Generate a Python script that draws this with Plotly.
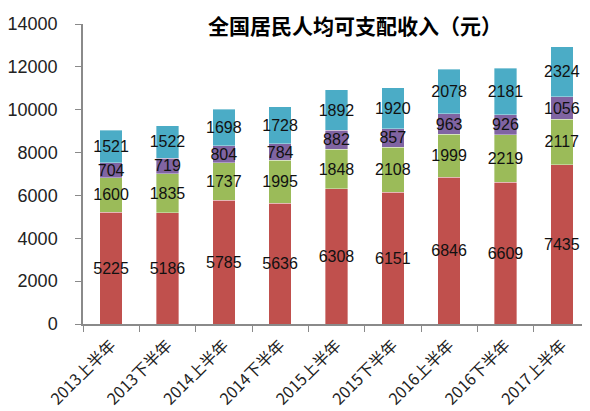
import plotly.graph_objects as go

categories = ["2013上半年", "2013下半年", "2014上半年", "2014下半年", "2015上半年",
              "2015下半年", "2016上半年", "2016下半年", "2017上半年"]
wage = [5225, 5186, 5785, 5636, 6308, 6151, 6846, 6609, 7435]
business = [1600, 1835, 1737, 1995, 1848, 2108, 1999, 2219, 2117]
property_inc = [704, 719, 804, 784, 882, 857, 963, 926, 1056]
transfer = [1521, 1522, 1698, 1728, 1892, 1920, 2078, 2181, 2324]
series_names = ["工资性收入", "经营净收入", "财产净收入", "转移净收入"]
colors = ["#C0504D", "#9BBB59", "#8064A2", "#4BACC6"]
title_text = "全国居民人均可支配收入（元）"

num_font = "Liberation Sans, Arial, sans-serif"
cjk_font = "Noto Sans CJK SC, Liberation Sans, sans-serif"

fig = go.Figure()
for name, vals, col in zip(series_names, [wage, business, property_inc, transfer], colors):
    fig.add_trace(go.Bar(
        x=categories, y=vals, name=name,
        marker=dict(color=col, line=dict(color="rgba(255,255,255,0.6)", width=0.6)),
        text=[str(v) for v in vals],
        textposition="inside", insidetextanchor="middle",
        constraintext="none", textangle=0, cliponaxis=False,
        textfont=dict(family=num_font, size=16, color="#111111"),
        hoverinfo="skip",
    ))

fig.add_annotation(
    text="<b>" + title_text + "</b>", xref="paper", yref="paper",
    x=0.536, y=1.0, xanchor="center", yanchor="middle", showarrow=False, yshift=-1,
    font=dict(family=cjk_font, size=21, color="#000000"),
)

# the page body adds an 8px offset, so the figure is sized to the visible area
fig.update_layout(
    width=582, height=403, barmode="stack", bargap=0.6,
    paper_bgcolor="white", plot_bgcolor="white", showlegend=False,
    margin=dict(l=75, r=0, t=16, b=87, autoexpand=False),
    font=dict(family=num_font, color="#222222"),
)
fig.update_yaxes(
    range=[0, 14000], dtick=2000, tickformat="d", showgrid=False, zeroline=False,
    showline=True, linecolor="#8a8a8a", linewidth=1.5, automargin=False,
    ticks="outside", ticklen=6, tickcolor="#8a8a8a", ticklabelstandoff=14,
    tickfont=dict(family=num_font, size=18, color="#222222"),
)
fig.update_xaxes(
    showline=True, linecolor="#8a8a8a", linewidth=1.5, automargin=False,
    ticks="outside", ticklen=6, tickcolor="#8a8a8a", tickson="boundaries",
    tickangle=-45, showgrid=False, ticklabelstandoff=4,
    tickfont=dict(family=cjk_font, size=16, color="#222222"),
)

fig.write_html("out.html")
